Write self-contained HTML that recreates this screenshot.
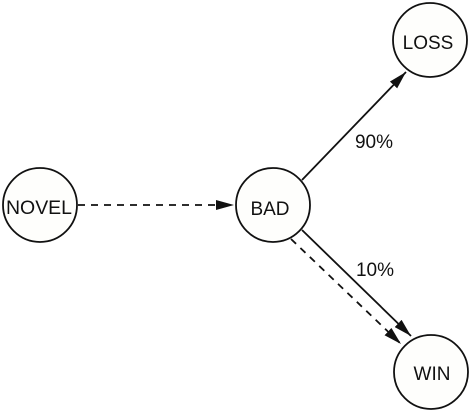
<!DOCTYPE html>
<html><head><style>html,body{margin:0;padding:0;background:#fff}svg{display:block}</style></head>
<body>
<svg width="473" height="411" viewBox="0 0 473 411" xmlns="http://www.w3.org/2000/svg" font-family="Liberation Sans, sans-serif" font-size="19" fill="#111">
<defs>
<marker id="a" markerWidth="18" markerHeight="10" refX="18" refY="5" orient="auto" markerUnits="userSpaceOnUse">
<path d="M0,0 L18,5 L0,10 z" fill="#111"/>
</marker>
</defs>
<g stroke="#111" stroke-width="1.8" fill="none">
<line x1="78" y1="205" x2="234" y2="205" stroke-dasharray="7,6" marker-end="url(#a)"/>
<line x1="302" y1="180" x2="406" y2="72" marker-end="url(#a)"/>
<line x1="302" y1="230" x2="411" y2="336" marker-end="url(#a)"/>
<line x1="291" y1="239" x2="401" y2="344" stroke-dasharray="7,6" marker-end="url(#a)"/>
</g>
<g stroke="#111" stroke-width="1.8" fill="#fefefc">
<circle cx="40" cy="205" r="37"/>
<circle cx="273" cy="205" r="37"/>
<circle cx="430" cy="40" r="37"/>
<circle cx="431" cy="372" r="37"/>
</g>
<g text-anchor="middle">
<text x="39" y="214" textLength="66" lengthAdjust="spacingAndGlyphs">NOVEL</text>
<text x="270" y="215">BAD</text>
<text x="428" y="49">LOSS</text>
<text x="432" y="380">WIN</text>
<text x="374" y="148">90%</text>
<text x="375" y="276">10%</text>
</g>
</svg>
</body></html>
